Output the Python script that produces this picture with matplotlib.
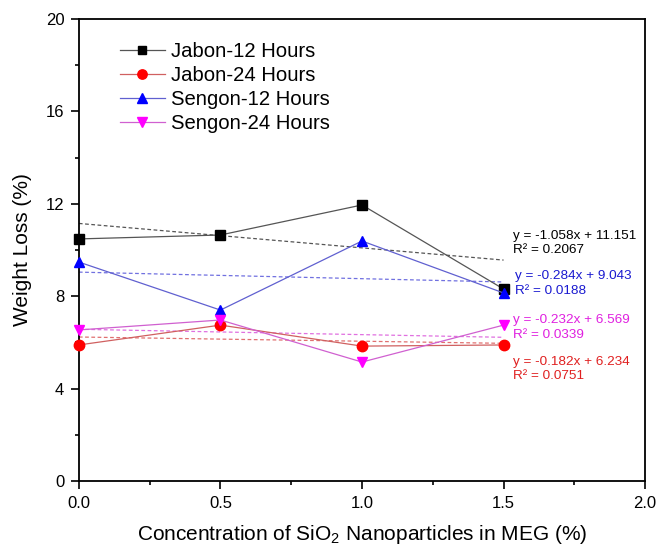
import matplotlib
matplotlib.use("Agg")
import matplotlib.pyplot as plt
import numpy as np
from matplotlib.ticker import MultipleLocator

plt.rcParams['font.family'] = ['Liberation Sans', 'DejaVu Sans']
plt.rcParams['mathtext.fontset'] = 'custom'
plt.rcParams['mathtext.rm'] = 'Liberation Sans'

conc = [0.0, 0.5, 1.0, 1.5]
jabon_12 = [10.48, 10.65, 11.95, 8.31]
jabon_24 = [5.89, 6.75, 5.84, 5.89]
sengon_12 = [9.48, 7.40, 10.39, 8.14]
sengon_24 = [6.54, 6.97, 5.15, 6.75]

labels = ["Jabon-12 Hours", "Jabon-24 Hours", "Sengon-12 Hours", "Sengon-24 Hours"]
slopes = [-1.058, -0.182, -0.284, -0.232]
intercepts = [11.151, 6.234, 9.043, 6.569]
r2 = ["0.2067", "0.0751", "0.0188", "0.0339"]
eq_pos = [(1.534, 10.30), (1.534, 4.85), (1.541, 8.55), (1.534, 6.645)]

colors = ["#000000", "#ff0000", "#0000ff", "#ff00ff"]
line_colors = ["#555555", "#d06060", "#6060d0", "#d060d0"]
trend_colors = ["#555555", "#e07070", "#7070e0", "#e070e0"]
text_colors = ["#000000", "#e02020", "#1a1ad0", "#e020e0"]
markers = ["s", "o", "^", "v"]
msizes = [6.5, 7.5, 7.5, 7.5]

fig = plt.figure(figsize=(6.57, 5.51), dpi=100)
ax = fig.add_axes([0.120, 0.127, 0.862, 0.8385])

series = [jabon_12, jabon_24, sengon_12, sengon_24]
for i, ys in enumerate(series):
    ax.plot(conc, ys, color=line_colors[i], lw=0.9, marker=markers[i], ms=msizes[i],
            mfc=colors[i], mec=colors[i], label=labels[i], zorder=3, clip_on=False)
    xs = np.array([conc[0], conc[-1]])
    ax.plot(xs, slopes[i] * xs + intercepts[i], ls=(0, (3, 2)), lw=0.9,
            color=trend_colors[i], zorder=2)
    ax.text(eq_pos[i][0], eq_pos[i][1],
            "y = %.3fx + %.3f\nR² = %s" % (slopes[i], intercepts[i], r2[i]),
            color=text_colors[i], fontsize=9.7, va="center", ha="left", linespacing=1.3)

ax.set_xlim(0, 2.0)
ax.set_ylim(0, 20)
ax.xaxis.set_major_locator(MultipleLocator(0.5))
ax.xaxis.set_minor_locator(MultipleLocator(0.25))
ax.yaxis.set_major_locator(MultipleLocator(4))
ax.yaxis.set_minor_locator(MultipleLocator(2))
ax.tick_params(which="both", direction="out", labelsize=12, top=False, right=False)
ax.tick_params(which="major", length=5.5, width=1.2, pad=5)
ax.tick_params(which="minor", length=3, width=1.2)
ax.xaxis.set_major_formatter(matplotlib.ticker.FormatStrFormatter("%.1f"))
for s in ax.spines.values():
    s.set_linewidth(1.3)

ax.set_xlabel("Concentration of SiO$_2$ Nanoparticles in MEG (%)", fontsize=15, labelpad=9)
ax.set_ylabel("Weight Loss (%)", fontsize=15, labelpad=10)

leg = ax.legend(loc="upper left", bbox_to_anchor=(0.0725, 0.95), frameon=False,
                fontsize=14.6, handlelength=2.2, handletextpad=0.3, labelspacing=0.25,
                borderpad=0, borderaxespad=0, markerscale=0.9)

fig.savefig("out.png", dpi=100)
